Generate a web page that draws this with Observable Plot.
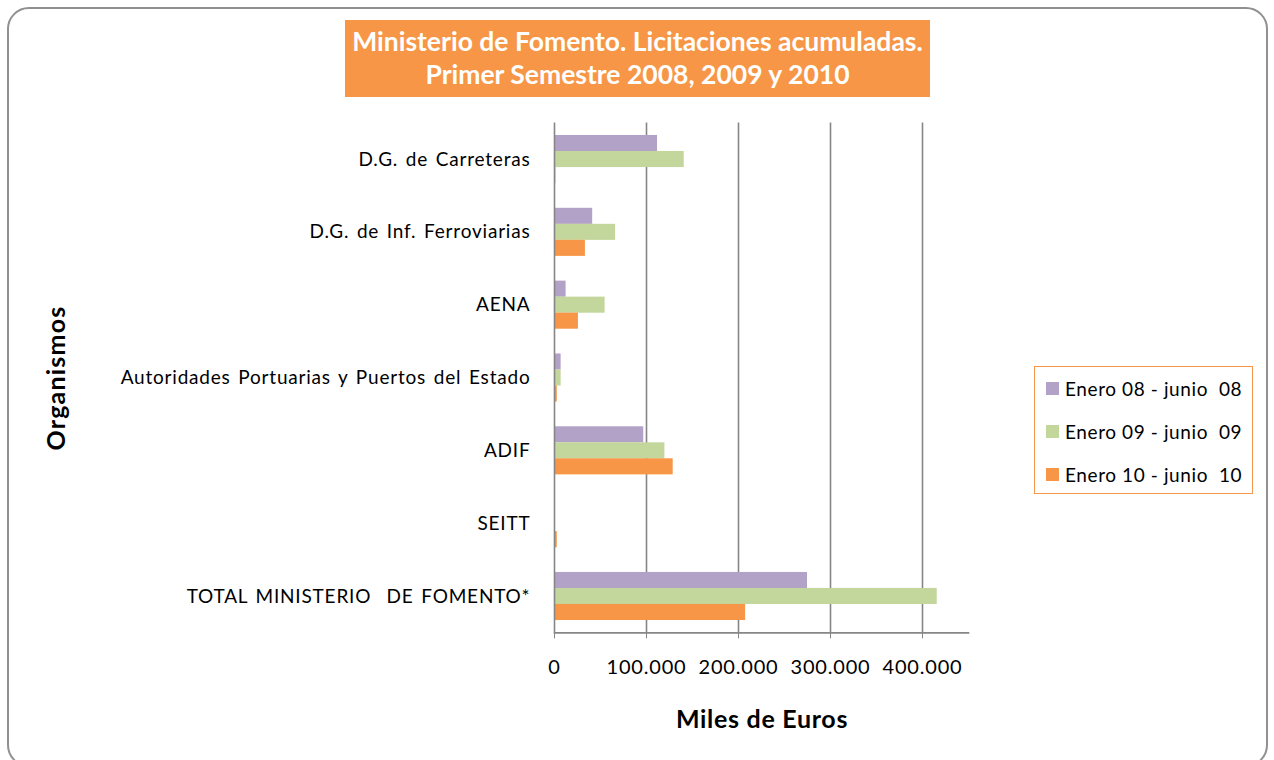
<!DOCTYPE html>
<html><head><meta charset="utf-8">
<script src="https://cdn.jsdelivr.net/npm/d3@7"></script>
<script src="https://cdn.jsdelivr.net/npm/@observablehq/plot@0.6"></script>
<style>
body{margin:0;background:#fff;font-family:Lato,"Open Sans",sans-serif;}
#wrap{position:relative;width:1274px;height:760px;overflow:hidden;}
#border{position:absolute;left:7px;top:7px;width:1261px;height:760px;border:2px solid #909090;border-radius:22px;box-sizing:border-box;}
#title{position:absolute;left:345px;top:20px;width:585px;height:77px;background:#F79646;color:#fff;font-weight:bold;font-size:26.5px;line-height:33px;text-align:center;padding-top:5px;box-sizing:border-box;white-space:nowrap;}
#chart{position:absolute;left:0;top:0;}
#chart svg text{letter-spacing:0.8px;word-spacing:2px;}
#chart svg g[aria-label="x-axis tick label"] text{letter-spacing:0.8px;}
#ylab{position:absolute;left:55px;top:378px;transform:translate(-50%,-50%) rotate(-90deg);font-weight:bold;font-size:25px;letter-spacing:1.2px;white-space:nowrap;}
#xlab{position:absolute;left:762px;top:718px;transform:translate(-50%,-50%);font-weight:bold;font-size:25px;letter-spacing:0.7px;white-space:nowrap;}
#legend{position:absolute;left:1034px;top:366px;width:219px;height:128px;border:1.5px solid #F79646;box-sizing:border-box;}
.li{position:absolute;left:11px;font-size:19px;letter-spacing:0.6px;display:flex;align-items:center;white-space:pre;}
.sw{width:13px;height:13px;margin-right:6px;}
</style></head>
<body><div id="wrap">
<div id="border"></div>
<div id="chart"></div>
<div id="title">Ministerio de Fomento. Licitaciones acumuladas.<br>Primer Semestre 2008, 2009 y 2010</div>
<div id="ylab">Organismos</div>
<div id="xlab">Miles de Euros</div>
<div id="legend"></div>
</div>
<script>
const categories = ["D.G. de Carreteras","D.G. de Inf. Ferroviarias","AENA","Autoridades Portuarias y Puertos del Estado","ADIF","SEITT","TOTAL MINISTERIO  DE FOMENTO*"];
const seriesNames = ["Enero 08 - junio 08","Enero 09 - junio 09","Enero 10 - junio 10"];
const colors = ["#B2A2C7","#C3D69B","#F79646"];
const v08 = [112000, 41500, 12600, 7200, 97000, 0, 275000];
const v09 = [141000, 66400, 55000, 7200, 120000, 0, 416000];
const v10 = [1500, 33600, 26000, 3000, 129000, 3000, 207700];
const xTicks = [0, 100000, 200000, 300000, 400000];

const seriesValues = [v08, v09, v10];
const rows = [];
seriesValues.forEach((vals, si) => vals.forEach((v, ci) => rows.push({cat: categories[ci], series: seriesNames[si], value: v, si})));

const fmt = d => d === 0 ? "0" : d3.format(",")(d).replace(/,/g, ".");
const grid = "#868686";

const barMarks = seriesNames.map((s, si) => Plot.barX(rows.filter(r => r.si === si), {
  y: "cat", x: "value", fill: colors[si],
  insetTop: si * 16, insetBottom: (2 - si) * 16
}));

const plot = Plot.plot({
  width: 1274, height: 760,
  marginLeft: 554, marginRight: 306, marginTop: 122.6, marginBottom: 127.6,
  style: {fontFamily: "Lato, 'Open Sans', sans-serif", color: "#000", background: "transparent"},
  x: {domain: [0, 450000]},
  y: {domain: categories, paddingInner: 0.34, paddingOuter: 0.17, round: false},
  marks: [
    Plot.gridX(xTicks.slice(1), {stroke: grid, strokeOpacity: 1, strokeWidth: 1.6}),
    ...barMarks,
    Plot.ruleX([0], {stroke: grid, strokeWidth: 1.6}),
    Plot.frame({anchor: "bottom", stroke: grid, strokeWidth: 1.6}),
    Plot.axisX(xTicks, {tickSize: 6, tickPadding: 21, tickFormat: fmt, fontSize: 20, stroke: grid, fill: "#000", label: null}),
    Plot.axisY({tickSize: 0, tickPadding: 24, fontSize: 19, label: null, fill: "#000"})
  ]
});
document.getElementById("chart").appendChild(plot);

const lg = document.getElementById("legend");
seriesNames.forEach((s, i) => {
  const d = document.createElement("div");
  d.className = "li";
  d.style.top = (10 + i * 43) + "px";
  d.innerHTML = `<span class="sw" style="background:${colors[i]}"></span><span>${s.replace("junio ", "junio  ")}</span>`;
  lg.appendChild(d);
});
</script>
</body></html>
